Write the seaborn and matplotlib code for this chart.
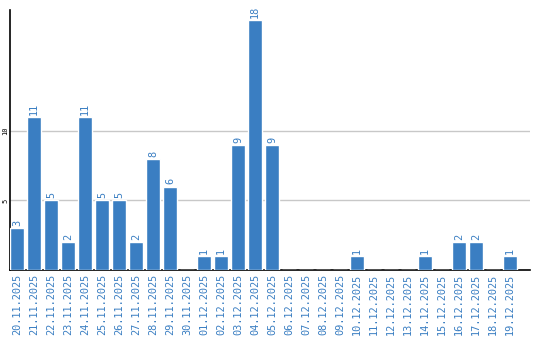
import matplotlib
matplotlib.use("Agg")
import matplotlib.pyplot as plt
import seaborn as sns
import pandas as pd

dates = ["20.11.2025", "21.11.2025", "22.11.2025", "23.11.2025", "24.11.2025",
         "25.11.2025", "26.11.2025", "27.11.2025", "28.11.2025", "29.11.2025",
         "30.11.2025", "01.12.2025", "02.12.2025", "03.12.2025", "04.12.2025",
         "05.12.2025", "06.12.2025", "07.12.2025", "08.12.2025", "09.12.2025",
         "10.12.2025", "11.12.2025", "12.12.2025", "13.12.2025", "14.12.2025",
         "15.12.2025", "16.12.2025", "17.12.2025", "18.12.2025", "19.12.2025"]
counts = [3, 11, 5, 2, 11, 5, 5, 2, 8, 6,
          0, 1, 1, 9, 18, 9, 0, 0, 0, 0,
          1, 0, 0, 0, 1, 0, 2, 2, 0, 1]

df = pd.DataFrame({"date": dates, "count": counts})

sns.set_theme(style="white")
plt.rcParams['font.family'] = ['DejaVu Sans Mono', 'DejaVu Sans']

BLUE = "#3a7ec2"
fig = plt.figure(figsize=(5.4, 3.4), dpi=100)
ax = fig.add_axes([10/540, 70/340, 520/540, 260/340])

sns.barplot(data=df, x="date", y="count", color=BLUE, width=0.82,
            saturation=1, ax=ax, zorder=3)

ax.set_xlim(-0.41, 30.18)
ax.set_ylim(0, 18.7)
ax.set_yticks([5, 10])
ax.yaxis.grid(True, color="#c8c8c8", linewidth=1, zorder=0)
ax.set_axisbelow(True)

for i, v in enumerate(counts):
    if v > 0:
        ax.text(i, v + 0.15, str(v), rotation=90, ha="center", va="bottom",
                color=BLUE, fontsize=7.4)

ax.set_xlabel("")
ax.set_ylabel("")
ax.tick_params(axis="x", length=0, pad=3, labelsize=7.4, labelcolor=BLUE)
ax.tick_params(axis="y", length=0, pad=1, labelsize=5, labelcolor="black")
for lab in ax.get_xticklabels():
    lab.set_rotation(90)
    lab.set_va("top")
    lab.set_ha("center")
for lab in ax.get_yticklabels():
    lab.set_rotation(90)
    lab.set_va("center")
    lab.set_ha("right")

for s in ["top", "right"]:
    ax.spines[s].set_visible(False)
for s in ["left", "bottom"]:
    ax.spines[s].set_color("black")
    ax.spines[s].set_linewidth(1.2)

fig.savefig("out.png", dpi=100)
